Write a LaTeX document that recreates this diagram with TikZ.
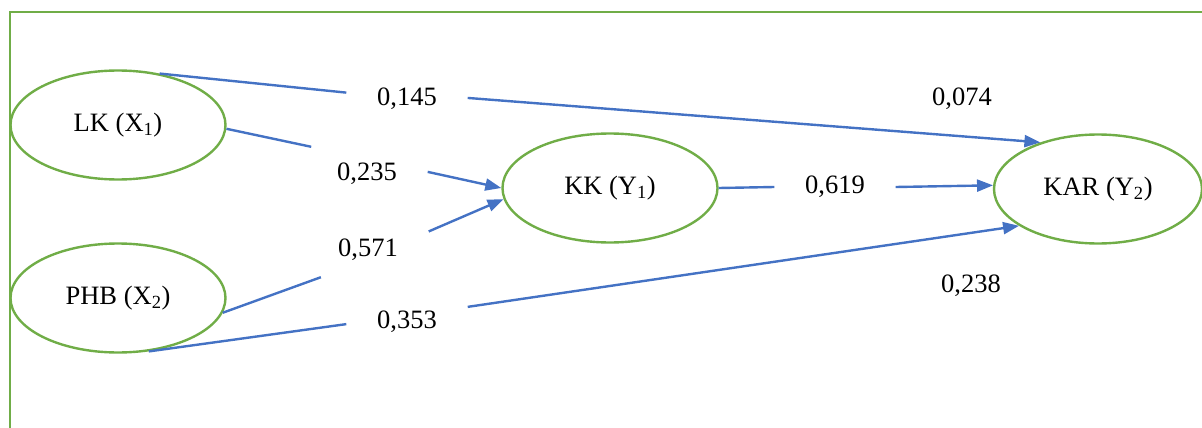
\documentclass[tikz,border=0pt]{standalone}
\usepackage{fontspec}
\setmainfont{Liberation Serif}
\usetikzlibrary{arrows.meta,shapes.geometric}
\definecolor{frameGreen}{HTML}{70AD47}
\definecolor{lineBlue}{HTML}{4472C4}
\begin{document}
\begin{tikzpicture}[x=1pt,y=-1pt,
  latent/.style={ellipse, draw=frameGreen, line width=2.4pt, minimum width=215pt, minimum height=109pt, inner sep=0pt, font=\fontsize{26.5}{30}\selectfont},
  coef/.style={rectangle, minimum width=121pt, minimum height=54pt, inner sep=0pt, font=\fontsize{26.5}{30}\selectfont},
  link/.style={draw=lineBlue, line width=2.4pt},
  linkarr/.style={link, -{Triangle[length=16pt,width=12pt]}}
]
\useasboundingbox (0,0) rectangle (1202,428);
\clip (0,0) rectangle (1202,428);
% frame
\draw[frameGreen, line width=2.4pt] (10,440) -- (10,12) -- (1210,12);
% latent variables
\node[latent] (lk)  at (118,125) {LK (X\textsubscript{1})};
\node[latent] (phb) at (118,298) {PHB (X\textsubscript{2})};
\node[latent] (kk)  at (610,188) {KK (Y\textsubscript{1})};
\node[latent, minimum width=208pt] (kar) at (1098,189) {KAR (Y\textsubscript{2})};
% coefficients
\node[coef] (c145) at (407,99) {0,145};
\node[coef] (c235) at (367,174) {0,235};
\node[coef] (c571) at (368,250) {0,571};
\node[coef] (c353) at (407,322) {0,353};
\node[coef] (c619) at (835,187) {0,619};
\node[coef] (c074) at (962,99) {0,074};
\node[coef] (c238) at (971,286) {0,238};
% paths
\draw[link] (lk.51) -- (c145.174);
\draw[linkarr] (c145.1) -- (kar.141);
\draw[link] (lk.-2) -- (c235.154);
\draw[linkarr] (c235.2) -- (kk.180);
\draw[link] (phb.-8.5) -- (c571.210);
\draw[linkarr] (c571.17) -- (kk.186);
\draw[link] (phb.-60.3) -- (c353.182);
\draw[linkarr] (c353.14) -- (kar.205);
\draw[link] (kk.0.5) -- (c619.180);
\draw[linkarr] (c619.0) -- (kar.178.5);
\end{tikzpicture}
\end{document}
